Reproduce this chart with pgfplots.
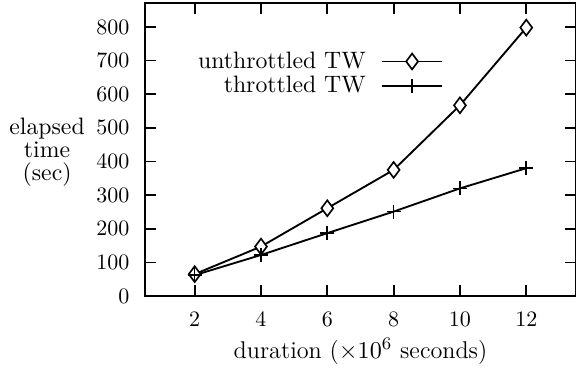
\documentclass[border=0pt]{standalone}
\usepackage{pgfplots}
\pgfplotsset{compat=1.18}
\usetikzlibrary{calc}
\begin{document}
\begin{tikzpicture}
\begin{axis}[
  scale only axis,
  width=196pt, height=133.2pt,
  xmin=0.5, xmax=13.5,
  ymin=0, ymax=871,
  xtick={2,4,...,12},
  ytick={0,100,...,800},
  major tick length=5pt,
  axis line style={line width=0.9pt},
  every tick/.style={line width=0.8pt,black},
  xticklabel style={yshift=-4pt},
  yticklabel style={xshift=-3.5pt},
  xlabel={duration ($\times10^6$ seconds)},
  xlabel style={font=\fontsize{11}{13}\selectfont, at={(axis description cs:0.5,-0.19)}, anchor=center},
  ylabel={elapsed\\[-2.5pt]time\\[-2.5pt](sec)},
  ylabel style={font=\fontsize{10.8}{13}\selectfont, rotate=-90, align=center, at={(axis description cs:-0.227,0.491)}, anchor=center},
  legend plot pos=right,
  legend cell align=right,
  legend style={draw=none, fill=none, font=\fontsize{10.8}{13}\selectfont, at={(axis description cs:0.708,0.866)}, anchor=north east, row sep=-2pt, column sep=5pt},
  legend image code/.code={\draw[mark repeat=2,mark phase=2] plot coordinates {(0cm,0cm) (0.48cm,0cm) (0.96cm,0cm)};},
]
\addplot[black, line width=0.85pt, mark=diamond*, mark size=3.6pt, mark options={fill=white, solid, line width=0.75pt}]
  coordinates {(2,65) (4,147) (6,261) (8,375) (10,567) (12,798)};
\addlegendentry{unthrottled TW}
\addplot[black, line width=0.85pt, mark=+, mark size=3.2pt, mark options={line width=0.75pt}]
  coordinates {(2,62) (4,122) (6,187) (8,251) (10,320) (12,380)};
\addlegendentry{throttled TW}
\end{axis}
\pgfresetboundingbox
\useasboundingbox ($(current axis.south west)+(-65.9pt,-35pt)$) rectangle ($(current axis.north east)+(0pt,1.4pt)$);
\end{tikzpicture}
\end{document}
